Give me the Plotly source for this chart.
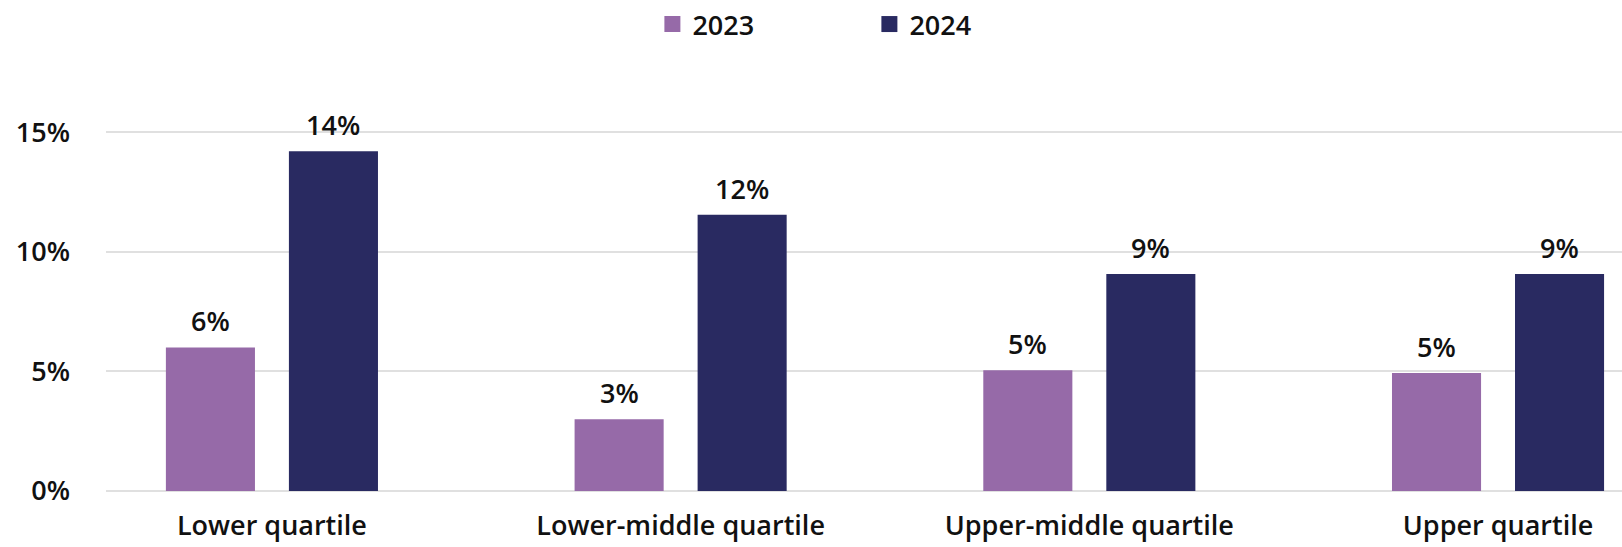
import plotly.graph_objects as go

# Share of employees by pay quartile, 2023 vs 2024 (percent)
quartiles = ["Lower quartile", "Lower-middle quartile", "Upper-middle quartile", "Upper quartile"]
years = ["2023", "2024"]
values_2023 = [6.0, 3.0, 5.05, 4.93]
values_2024 = [14.2, 11.55, 9.07, 9.07]
y_ticks = [0, 5, 10, 15]
y_tick_labels = ["0%", "5%", "10%", "15%"]

colors = {"2023": "#966aa8", "2024": "#292a61"}
series = {"2023": values_2023, "2024": values_2024}

FONT = "Open Sans"
FSIZE = 27
TEXT_COLOR = "#111111"

W, H = 1622, 547
M_L, M_R, M_T, M_B = 106, 0, 120, 56
px_per_unit = 23.92
y_max = (H - M_T - M_B) / px_per_unit

fig = go.Figure()

for yr in years:
    fig.add_trace(go.Bar(
        x=quartiles,
        y=series[yr],
        name=yr,
        marker=dict(color=colors[yr], line=dict(width=0)),
        showlegend=False,
        hoverinfo="skip",
    ))
    # legend swatch
    fig.add_trace(go.Scatter(
        x=[None], y=[None], mode="markers", name=yr,
        marker=dict(symbol="square", size=19, color=colors[yr]),
        showlegend=True,
    ))

# value labels above each bar
bargap = 0.398
slot = (1 - bargap) / 2
plot_w = W - M_L - M_R
x_lo = -0.406
x_hi = x_lo + plot_w / 408.7
unit_px = plot_w / (x_hi - x_lo)
for i, yr in enumerate(years):
    shift = (i - 0.5) * slot * unit_px
    for q, v in zip(quartiles, series[yr]):
        fig.add_annotation(
            x=q, y=v, xref="x", yref="y",
            text=f"{round(v)}%", showarrow=False,
            xanchor="center", yanchor="bottom",
            xshift=shift, yshift=6,
            font=dict(family=FONT, size=FSIZE, color=TEXT_COLOR, weight=600),
        )

fig.update_layout(
    width=W, height=H,
    margin=dict(l=M_L, r=M_R, t=M_T, b=M_B, pad=0),
    paper_bgcolor="white", plot_bgcolor="white",
    barmode="group", bargap=bargap, bargroupgap=0.276,
    font=dict(family=FONT, size=FSIZE, color=TEXT_COLOR, weight=600),
    legend=dict(
        orientation="h", xref="container", yref="container",
        x=0.536, xanchor="center", y=1.0, yanchor="top",
        entrywidth=172, entrywidthmode="pixels",
        font=dict(family=FONT, size=FSIZE, color=TEXT_COLOR, weight=600),
        bgcolor="rgba(0,0,0,0)",
    ),
    xaxis=dict(
        type="category", range=[x_lo, x_hi], automargin=False,
        showgrid=False, showline=False, zeroline=False,
        ticks="", ticklabelstandoff=16,
        tickfont=dict(family=FONT, size=FSIZE, color=TEXT_COLOR, weight=600),
    ),
    yaxis=dict(
        range=[0, y_max], tickvals=y_ticks, ticktext=y_tick_labels,
        automargin=False,
        showgrid=True, gridcolor="#e0e0e0", gridwidth=2,
        zeroline=True, zerolinecolor="#e0e0e0", zerolinewidth=2,
        showline=False, ticks="", ticklabelstandoff=35,
        tickfont=dict(family=FONT, size=FSIZE, color=TEXT_COLOR, weight=600),
    ),
)

fig.write_html("out.html")
